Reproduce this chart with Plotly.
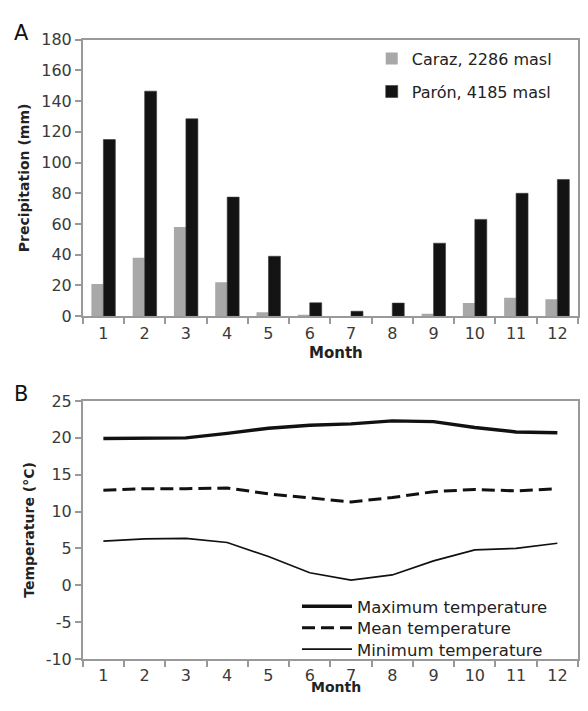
import plotly.graph_objects as go

months = [str(m) for m in range(1, 13)]
caraz = [21, 38, 58, 22, 2.6, 0.4, 0, 0, 1.5, 8.5, 12, 11]
paron = [115, 146.5, 128.5, 77.5, 39, 8.7, 3.2, 8.5, 47.5, 63, 80, 89]
tmax = [19.9, 20.0, 20.0, 20.6, 21.3, 21.7, 21.9, 22.3, 22.2, 21.4, 20.8, 20.7]
tmean = [12.9, 13.1, 13.1, 13.2, 12.4, 11.9, 11.3, 11.9, 12.7, 13.0, 12.8, 13.1]
tmin = [6.0, 6.3, 6.35, 5.8, 3.9, 1.7, 0.7, 1.4, 3.3, 4.8, 5.0, 5.7]
precip_ticks = [0, 20, 40, 60, 80, 100, 120, 140, 160, 180]
temp_ticks = [-10, -5, 0, 5, 10, 15, 20, 25]
temp_tick_labels = ["-10", "-5", "0", "5", "10", "15", "20", "25"]

FONT = "DejaVu Sans"
W, H = 572, 695
XOFF = 8
# measured page-to-picture vertical mapping: picture_y = YS * fig_y + YB
YS, YB = 0.9746, 15.25


def px_x(v):
    return min(max((v - XOFF) / W, 0), 1)


def px_y(v):
    f = (v - YB) / YS
    return min(max((H - f) / H, 0), 1)


fig = go.Figure()
fig.add_trace(go.Bar(x=months, y=caraz, name="Caraz, 2286 masl",
                     marker=dict(color="#a8a8a8", line=dict(width=0)),
                     xaxis="x", yaxis="y", legend="legend"))
fig.add_trace(go.Bar(x=months, y=paron, name="Parón, 4185 masl",
                     marker=dict(color="#131313", line=dict(color="#3a3a3a", width=0.6)),
                     xaxis="x", yaxis="y", legend="legend2"))
fig.add_trace(go.Scatter(x=months, y=tmax, name="Maximum temperature", mode="lines",
                         line=dict(color="#111111", width=3.4), xaxis="x2", yaxis="y2", legend="legend3"))
fig.add_trace(go.Scatter(x=months, y=tmean, name="Mean temperature", mode="lines",
                         line=dict(color="#111111", width=3, dash="13px,6px"), xaxis="x2", yaxis="y2", legend="legend4"))
fig.add_trace(go.Scatter(x=months, y=tmin, name="Minimum temperature", mode="lines",
                         line=dict(color="#111111", width=1.7), xaxis="x2", yaxis="y2", legend="legend5"))

axis_common = dict(showline=True, linecolor="#999999", linewidth=1.5, mirror=True, showgrid=False,
                   zeroline=False, ticks="outside", ticklen=6, tickcolor="#999999", tickwidth=1.5,
                   tickfont=dict(family=FONT, size=16, color="#3a3a3a"))
title_font = dict(family=FONT, size=14, color="#222222")


def leg(xp, yp, size, iw):
    return dict(x=px_x(xp), y=px_y(yp), xanchor="left", yanchor="middle", bgcolor="rgba(0,0,0,0)",
                font=dict(family=FONT, size=size, color="#222222"), itemwidth=iw)


fig.update_layout(
    width=W, height=H, margin=dict(l=0, r=0, t=0, b=0),
    paper_bgcolor="white", plot_bgcolor="white",
    barmode="group", bargap=0.42, bargroupgap=0,
    font=dict(family=FONT, color="#222222"),
    xaxis=dict(axis_common, type="category", tickson="boundaries", range=[-0.5, 11.5],
               domain=[px_x(83), px_x(587)], anchor="y", ticklabelstandoff=2),
    yaxis=dict(axis_common, domain=[px_y(315), px_y(38)], range=[0, 180], tickvals=precip_ticks,
               anchor="x", title=dict(text="<b>Precipitation (mm)</b>", font=title_font, standoff=8)),
    xaxis2=dict(axis_common, type="category", tickson="boundaries", range=[-0.5, 11.5],
                domain=[px_x(83), px_x(587)], anchor="y2", ticklabelstandoff=1),
    yaxis2=dict(axis_common, domain=[px_y(658.5), px_y(400)], range=[-10, 25], tickvals=temp_ticks,
                ticktext=temp_tick_labels,
                anchor="x2", title=dict(text="<b>Temperature (°C)</b>", font=title_font, standoff=8)),
    legend=leg(373, 57, 16, 30), legend2=leg(373, 90, 16, 30),
    legend3=leg(298, 606, 16.5, 50), legend4=leg(298, 627.5, 16.5, 50), legend5=leg(298, 649, 16.5, 50),
    showlegend=True,
    annotations=[
        dict(text="A", x=px_x(12), y=px_y(31), xref="paper", yref="paper", xanchor="left", yanchor="middle",
             showarrow=False, font=dict(family=FONT, size=21, color="#111111")),
        dict(text="B", x=px_x(12), y=px_y(393.5), xref="paper", yref="paper", xanchor="left", yanchor="middle",
             showarrow=False, font=dict(family=FONT, size=21, color="#111111")),
        dict(text="<b>Month</b>", x=px_x(337), y=px_y(352), xref="paper", yref="paper", xanchor="center",
             yanchor="middle", showarrow=False, font=dict(family=FONT, size=15, color="#222222")),
        dict(text="<b>Month</b>", x=px_x(337), y=px_y(686.7), xref="paper", yref="paper", xanchor="center",
             yanchor="middle", showarrow=False, font=dict(family=FONT, size=14, color="#222222")),
    ],
)

fig.write_html("out.html", config={"displayModeBar": False})
